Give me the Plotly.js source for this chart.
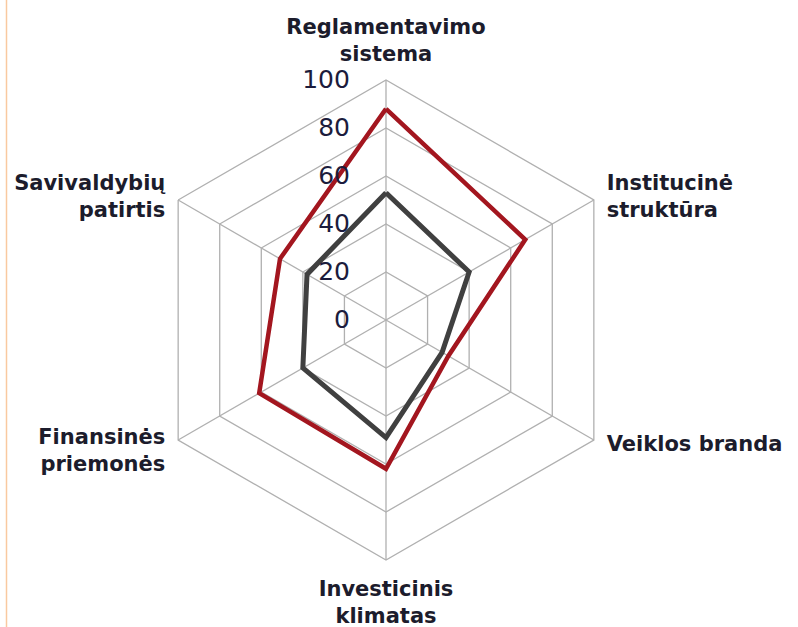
<!DOCTYPE html>
<html>
<head>
<meta charset="utf-8">
<script src="https://cdn.plot.ly/plotly-3.0.1.min.js"></script>
<style>html,body{margin:0;padding:0;background:#fff;}#chart{width:798px;height:627px;}</style>
</head>
<body>
<div id="chart"></div>
<script>
const categories = [
  "Reglamentavimo<br>sistema",
  "\u00a0<br>\u00a0<br>Institucinė<br>struktūra",
  "Veiklos branda<br>\u00a0<br>\u00a0",
  "Investicinis<br>klimatas",
  "Finansinės<br>priemonės<br>\u00a0<br>\u00a0",
  "\u00a0<br>\u00a0<br>Savivaldybių<br>patirtis"
];
const seriesRed = [88, 67, 30, 62, 61, 51];
const seriesDark = [53, 40, 27, 49, 40, 38];
const radialTicks = [0, 20, 40, 60, 80, 100];
const radialTickLabels = ["0", "20", "40", "60", "80", "100"];

function closed(arr) { return arr.concat([arr[0]]); }
// pad labels with figure spaces so they sit to the left of the vertical spoke
const FIG = '\u2007';
function padLabel(s) { return s + FIG.repeat(2); }

const traces = [
  {
    type: 'scatterpolar', mode: 'lines',
    r: closed(seriesDark), theta: closed(categories),
    line: {color: '#404040', width: 5},
    hoverinfo: 'skip', showlegend: false
  },
  {
    type: 'scatterpolar', mode: 'lines',
    r: closed(seriesRed), theta: closed(categories),
    line: {color: '#A3161F', width: 4.5},
    hoverinfo: 'skip', showlegend: false
  }
];

const layout = {
  width: 798, height: 627,
  margin: {l: 0, r: 0, t: 0, b: 0},
  paper_bgcolor: '#fff',
  showlegend: false,
  font: {family: '"DejaVu Sans", sans-serif', color: '#1c1c2c'},
  polar: {
    domain: {x: [146/798, 626/798], y: [67/627, 547/627]},
    gridshape: 'linear',
    bgcolor: 'rgba(0,0,0,0)',
    radialaxis: {
      range: [0, 100],
      tickvals: radialTicks,
      ticktext: radialTickLabels.map(padLabel),
      angle: 90,
      tickangle: 90,
      side: 'counterclockwise',
      showline: false,
      ticks: '',
      gridcolor: '#b0b0b0', gridwidth: 1.3,
      tickfont: {size: 25, color: '#1c1c3c', family: '"DejaVu Sans", sans-serif'}
    },
    angularaxis: {
      type: 'category',
      categoryarray: categories,
      direction: 'clockwise',
      rotation: 90,
      showline: true,
      linecolor: '#b0b0b0', linewidth: 1.3,
      gridcolor: '#b0b0b0', gridwidth: 1.3,
      ticks: 'outside', ticklen: 10, tickcolor: 'rgba(0,0,0,0)',
      tickfont: {size: 21, color: '#1c1c2c', family: '"DejaVu Sans", sans-serif', weight: 'bold'}
    }
  },
  shapes: [
    {type: 'line', xref: 'paper', yref: 'paper', x0: 6.5/798, x1: 6.5/798, y0: 0, y1: 1,
     line: {color: '#F9C9A0', width: 1.5}}
  ]
};

Plotly.newPlot('chart', traces, layout, {staticPlot: true});
</script>
</body>
</html>
